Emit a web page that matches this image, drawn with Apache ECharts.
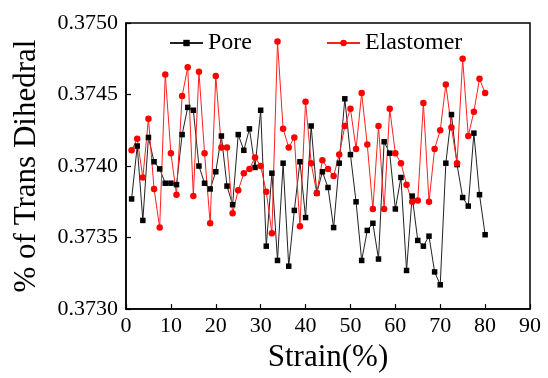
<!DOCTYPE html>
<html>
<head>
<meta charset="utf-8">
<script src="https://cdn.jsdelivr.net/npm/echarts@6/dist/echarts.min.js"></script>
<style>
html,body{margin:0;padding:0;background:#fff;}
#c{width:548px;height:378px;}
</style>
</head>
<body>
<div id="c"></div>
<script>
var strain = [1.25,2.5,3.75,5,6.25,7.5,8.75,10,11.25,12.5,13.75,15,16.25,17.5,18.75,20,
  21.25,22.5,23.75,25,26.25,27.5,28.75,30,31.25,32.5,33.75,35,36.25,37.5,38.75,40,
  41.25,42.5,43.75,45,46.25,47.5,48.75,50,51.25,52.5,53.75,55,56.25,57.5,58.75,60,
  61.25,62.5,63.75,65,66.25,67.5,68.75,70,71.25,72.5,73.75,75,76.25,77.5,78.75,80];
var pore = [0.37377,0.37414,0.37362,0.37420,0.37403,0.37398,0.37388,0.37388,0.37387,0.37422,
  0.37441,0.37439,0.37400,0.37388,0.37384,0.37396,0.37421,0.37386,0.37373,0.37422,
  0.37411,0.37426,0.37399,0.37439,0.37344,0.37395,0.37334,0.37402,0.37330,0.37369,
  0.37403,0.37364,0.37428,0.37381,0.37396,0.37385,0.37357,0.37402,0.37447,0.37408,
  0.37375,0.37334,0.37355,0.37360,0.37335,0.37417,0.37409,0.37370,0.37392,0.37327,
  0.37379,0.37348,0.37344,0.37351,0.37326,0.37317,0.37402,0.37436,0.37401,0.37378,
  0.37372,0.37423,0.37380,0.37352];
var elastomer = [0.37411,0.37419,0.37392,0.37433,0.37384,0.37357,0.37464,0.37409,0.37380,0.37449,
  0.37469,0.37379,0.37466,0.37409,0.37360,0.37463,0.37413,0.37413,0.37367,0.37383,
  0.37395,0.37398,0.37406,0.37400,0.37382,0.37353,0.37487,0.37426,0.37413,0.37420,
  0.37358,0.37445,0.37402,0.37381,0.37404,0.37398,0.37393,0.37408,0.37428,0.37440,
  0.37412,0.37451,0.37415,0.37370,0.37428,0.37370,0.37440,0.37409,0.37402,0.37387,
  0.37375,0.37376,0.37444,0.37375,0.37412,0.37425,0.37457,0.37427,0.37402,0.37475,
  0.37421,0.37438,0.37461,0.37451];
var seriesNames = ['Pore','Elastomer'];
var xTitle = 'Strain(%)';
var yTitle = '% of Trans Dihedral';

function pairs(xs, ys){ return xs.map(function(x,i){ return [x, ys[i]]; }); }

var FONT = 'Liberation Serif';
var chart = echarts.init(document.getElementById('c'), null, {renderer:'canvas'});
chart.setOption({
  animation: false,
  backgroundColor: '#fff',
  grid: {left:126, right:18, top:23, bottom:57, show:true, borderColor:'#000', borderWidth:1.5, backgroundColor:'transparent'},
  legend: {
    left:169, top:31, padding:0, itemWidth:33, itemHeight:8, itemGap:74,
    textStyle:{fontFamily:FONT, fontSize:24, color:'#000'},
    data: seriesNames
  },
  xAxis: {
    type:'value', min:0, max:90, interval:10,
    name:xTitle, nameLocation:'middle', nameGap:25,
    nameTextStyle:{fontFamily:FONT, fontSize:31, color:'#000'},
    axisLine:{show:true, lineStyle:{color:'#000', width:1.5}},
    axisTick:{show:true, inside:true, length:5, lineStyle:{color:'#000', width:1.2}},
    axisLabel:{fontFamily:FONT, fontSize:22, color:'#000', margin:6},
    splitLine:{show:false}
  },
  yAxis: {
    type:'value', min:0.3730, max:0.3750, interval:0.0005,
    name:yTitle, nameLocation:'middle', nameGap:84,
    nameTextStyle:{fontFamily:FONT, fontSize:31, color:'#000'},
    axisLine:{show:true, lineStyle:{color:'#000', width:1.5}},
    axisTick:{show:true, inside:true, length:5, lineStyle:{color:'#000', width:1.2}},
    axisLabel:{fontFamily:FONT, fontSize:22, color:'#000', margin:8,
      formatter:function(v){ return v.toFixed(4); }},
    splitLine:{show:false}
  },
  series: [
    {name:seriesNames[0], type:'line', data:pairs(strain, pore), symbol:'rect', symbolSize:5.5,
     itemStyle:{color:'#000'}, lineStyle:{color:'#222', width:1}},
    {name:seriesNames[1], type:'line', data:pairs(strain, elastomer), symbol:'circle', symbolSize:6.5,
     itemStyle:{color:'#ff0000'}, lineStyle:{color:'#ff2020', width:1}}
  ]
});
</script>
</body>
</html>
